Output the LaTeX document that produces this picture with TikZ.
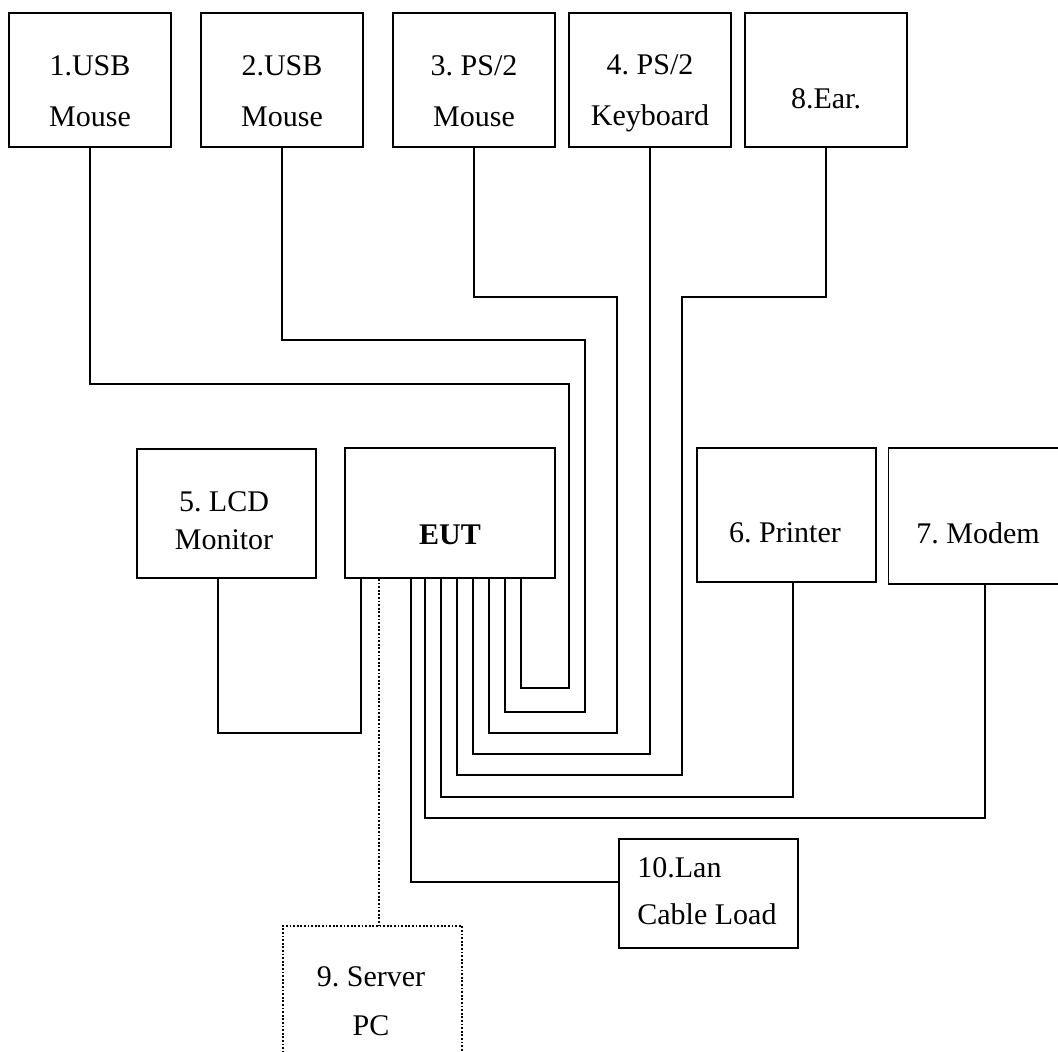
\documentclass[tikz,border=0pt]{standalone}
\usepackage{fontspec}
\setmainfont{Liberation Serif}
\usetikzlibrary{positioning,calc}
\frenchspacing
\tikzset{
  box/.style={draw,line width=0.9pt,inner sep=0pt},
  topbox/.style={box,minimum width=81pt,minimum height=67pt},
  midbox/.style={box,minimum width=89.5pt},
  lbl/.style={align=center,inner sep=0pt,font=\fontsize{15}{25.5}\selectfont},
  wire/.style={line width=0.9pt},
  dotwire/.style={line width=0.9pt,dash pattern=on 0.9pt off 0.9pt},
}

\begin{document}
\begin{tikzpicture}[x=0.5pt,y=-0.5pt]
  \useasboundingbox (0,0) rectangle (1058,1052);
  \clip (0,0) rectangle (1058,1052);
  \node[topbox] (usb1) at (90,80) {};
  \node[topbox] (usb2) at (282,80) {};
  \node[topbox] (ps2m) at (474,80) {};
  \node[topbox] (kbd) at (650,80) {};
  \node[topbox] (ear) at (826,80) {};
  \node[lbl] (usb1-t) at (90,91) {1.USB\\Mouse};
  \node[lbl] (usb2-t) at (282,91) {2.USB\\Mouse};
  \node[lbl] (ps2m-t) at (474,91) {3. PS/2\\Mouse};
  \node[lbl] (kbd-t) at (650,93) {4. PS/2\\Keyboard};
  \node[lbl] (ear-t) at (826,99) {8.Ear.};

  \node[midbox,minimum height=64.5pt] (lcd) at (226.5,513.5) {};
  \node[box,minimum width=105pt,minimum height=65pt] (eut) at (450,513) {};
  \node[midbox,minimum height=67pt] (prn) at (786.5,515) {};
  \node[midbox,minimum height=68pt] (mod) at (978,516) {};
  \node[lbl,font=\fontsize{15}{19}\selectfont] (lcd-t) at (224,521) {5. LCD\\Monitor};
  \node[lbl,font=\fontsize{15}{18}\bfseries] (eut-t) at (450,535) {EUT};
  \node[lbl] (prn-t) at (785,533) {6. Printer};
  \node[lbl] (mod-t) at (978,533) {7. Modem};

  \node[midbox,minimum height=54.5pt] (lan) at (708.5,893.5) {};
  \node[midbox,minimum height=70pt,dash pattern=on 0.9pt off 0.9pt] (srv) at (372.5,996) {};
  \node[lbl,align=left,anchor=west,font=\fontsize{15}{23.5}\selectfont] (lan-t) at (637,891.5) {10.Lan\\Cable Load};
  \node[lbl,font=\fontsize{15}{24.5}\selectfont] (srv-t) at (371,1001.5) {9. Server\\PC};

  \foreach \n/\x in {lcd/361,srv/379,lan/411,mod/425,prn/441,ear/457,kbd/473,ps2/489,us2/505,us1/521}
    \coordinate (e-\n) at (eut.south -| \x,0);

  \draw[wire] (usb1.south) |- (569,384) -- (569,688) -| (e-us1);
  \draw[wire] (usb2.south) |- (585,340) -- (585,712) -| (e-us2);
  \draw[wire] (ps2m.south) |- (617,297) -- (617,733) -| (e-ps2);
  \draw[wire] (kbd.south) -- (650,754) -| (e-kbd);
  \draw[wire] (ear.south) |- (682,297) -- (682,775) -| (e-ear);
  \draw[wire] (prn.south -| 793,0) -- (793,797) -| (e-prn);
  \draw[wire] (mod.south -| 985,0) -- (985,818) -| (e-mod);
  \draw[wire] (e-lan) |- (lan.west |- 0,882);
  \draw[wire] (lcd.south -| 218,0) -- (218,733) -| (e-lcd);
  \draw[dotwire] (e-srv) -- (srv.north -| e-srv);
\end{tikzpicture}
\end{document}
